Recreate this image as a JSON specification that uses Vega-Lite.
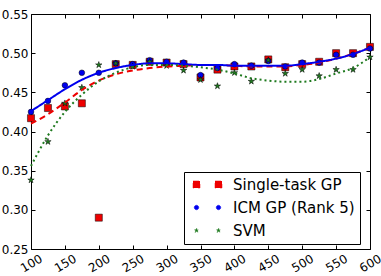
{
  "$schema": "https://vega.github.io/schema/vega-lite/v6.json",
  "width": 339,
  "height": 235,
  "autosize": "none",
  "padding": {"left": 31, "top": 14, "right": 11, "bottom": 27},
  "background": "white",
  "config": {
    "view": {"stroke": "#000000", "strokeWidth": 1},
    "font": "DejaVu Sans",
    "axis": {
      "grid": false,
      "domain": false,
      "tickColor": "#000000",
      "tickSize": -4,
      "tickWidth": 1,
      "labelFont": "DejaVu Sans",
      "labelFontSize": 12,
      "labelColor": "#000000",
      "title": null
    }
  },
  "datasets": {
    "points": [
      {"x": 100, "y": 0.417, "method": "Single-task GP"},
      {"x": 125, "y": 0.430, "method": "Single-task GP"},
      {"x": 150, "y": 0.432, "method": "Single-task GP"},
      {"x": 175, "y": 0.436, "method": "Single-task GP"},
      {"x": 200, "y": 0.290, "method": "Single-task GP"},
      {"x": 225, "y": 0.486, "method": "Single-task GP"},
      {"x": 250, "y": 0.485, "method": "Single-task GP"},
      {"x": 275, "y": 0.489, "method": "Single-task GP"},
      {"x": 300, "y": 0.488, "method": "Single-task GP"},
      {"x": 325, "y": 0.486, "method": "Single-task GP"},
      {"x": 350, "y": 0.469, "method": "Single-task GP"},
      {"x": 375, "y": 0.479, "method": "Single-task GP"},
      {"x": 400, "y": 0.483, "method": "Single-task GP"},
      {"x": 425, "y": 0.483, "method": "Single-task GP"},
      {"x": 450, "y": 0.492, "method": "Single-task GP"},
      {"x": 475, "y": 0.482, "method": "Single-task GP"},
      {"x": 500, "y": 0.486, "method": "Single-task GP"},
      {"x": 525, "y": 0.489, "method": "Single-task GP"},
      {"x": 550, "y": 0.500, "method": "Single-task GP"},
      {"x": 575, "y": 0.500, "method": "Single-task GP"},
      {"x": 600, "y": 0.508, "method": "Single-task GP"},
      {"x": 100, "y": 0.425, "method": "ICM GP (Rank 5)"},
      {"x": 125, "y": 0.439, "method": "ICM GP (Rank 5)"},
      {"x": 150, "y": 0.459, "method": "ICM GP (Rank 5)"},
      {"x": 175, "y": 0.475, "method": "ICM GP (Rank 5)"},
      {"x": 200, "y": 0.475, "method": "ICM GP (Rank 5)"},
      {"x": 225, "y": 0.487, "method": "ICM GP (Rank 5)"},
      {"x": 250, "y": 0.486, "method": "ICM GP (Rank 5)"},
      {"x": 275, "y": 0.491, "method": "ICM GP (Rank 5)"},
      {"x": 300, "y": 0.489, "method": "ICM GP (Rank 5)"},
      {"x": 325, "y": 0.488, "method": "ICM GP (Rank 5)"},
      {"x": 350, "y": 0.472, "method": "ICM GP (Rank 5)"},
      {"x": 375, "y": 0.481, "method": "ICM GP (Rank 5)"},
      {"x": 400, "y": 0.486, "method": "ICM GP (Rank 5)"},
      {"x": 425, "y": 0.484, "method": "ICM GP (Rank 5)"},
      {"x": 450, "y": 0.490, "method": "ICM GP (Rank 5)"},
      {"x": 475, "y": 0.483, "method": "ICM GP (Rank 5)"},
      {"x": 500, "y": 0.488, "method": "ICM GP (Rank 5)"},
      {"x": 525, "y": 0.488, "method": "ICM GP (Rank 5)"},
      {"x": 550, "y": 0.498, "method": "ICM GP (Rank 5)"},
      {"x": 575, "y": 0.498, "method": "ICM GP (Rank 5)"},
      {"x": 600, "y": 0.506, "method": "ICM GP (Rank 5)"},
      {"x": 100, "y": 0.338, "method": "SVM"},
      {"x": 125, "y": 0.387, "method": "SVM"},
      {"x": 150, "y": 0.436, "method": "SVM"},
      {"x": 175, "y": 0.456, "method": "SVM"},
      {"x": 200, "y": 0.485, "method": "SVM"},
      {"x": 225, "y": 0.487, "method": "SVM"},
      {"x": 250, "y": 0.483, "method": "SVM"},
      {"x": 275, "y": 0.489, "method": "SVM"},
      {"x": 300, "y": 0.484, "method": "SVM"},
      {"x": 325, "y": 0.478, "method": "SVM"},
      {"x": 350, "y": 0.466, "method": "SVM"},
      {"x": 375, "y": 0.458, "method": "SVM"},
      {"x": 400, "y": 0.475, "method": "SVM"},
      {"x": 425, "y": 0.464, "method": "SVM"},
      {"x": 450, "y": 0.491, "method": "SVM"},
      {"x": 475, "y": 0.474, "method": "SVM"},
      {"x": 500, "y": 0.479, "method": "SVM"},
      {"x": 525, "y": 0.471, "method": "SVM"},
      {"x": 550, "y": 0.479, "method": "SVM"},
      {"x": 575, "y": 0.479, "method": "SVM"},
      {"x": 600, "y": 0.495, "method": "SVM"}
    ],
    "fits": [
      {"x": 100, "y": 0.410, "method": "Single-task GP"},
      {"x": 125, "y": 0.422, "method": "Single-task GP"},
      {"x": 150, "y": 0.437, "method": "Single-task GP"},
      {"x": 175, "y": 0.453, "method": "Single-task GP"},
      {"x": 200, "y": 0.465, "method": "Single-task GP"},
      {"x": 225, "y": 0.473, "method": "Single-task GP"},
      {"x": 250, "y": 0.478, "method": "Single-task GP"},
      {"x": 275, "y": 0.481, "method": "Single-task GP"},
      {"x": 300, "y": 0.483, "method": "Single-task GP"},
      {"x": 325, "y": 0.484, "method": "Single-task GP"},
      {"x": 350, "y": 0.485, "method": "Single-task GP"},
      {"x": 375, "y": 0.485, "method": "Single-task GP"},
      {"x": 400, "y": 0.484, "method": "Single-task GP"},
      {"x": 425, "y": 0.483, "method": "Single-task GP"},
      {"x": 450, "y": 0.483, "method": "Single-task GP"},
      {"x": 475, "y": 0.483, "method": "Single-task GP"},
      {"x": 500, "y": 0.485, "method": "Single-task GP"},
      {"x": 525, "y": 0.488, "method": "Single-task GP"},
      {"x": 550, "y": 0.493, "method": "Single-task GP"},
      {"x": 575, "y": 0.499, "method": "Single-task GP"},
      {"x": 600, "y": 0.507, "method": "Single-task GP"},
      {"x": 100, "y": 0.426, "method": "ICM GP (Rank 5)"},
      {"x": 125, "y": 0.440, "method": "ICM GP (Rank 5)"},
      {"x": 150, "y": 0.454, "method": "ICM GP (Rank 5)"},
      {"x": 175, "y": 0.466, "method": "ICM GP (Rank 5)"},
      {"x": 200, "y": 0.475, "method": "ICM GP (Rank 5)"},
      {"x": 225, "y": 0.481, "method": "ICM GP (Rank 5)"},
      {"x": 250, "y": 0.485, "method": "ICM GP (Rank 5)"},
      {"x": 275, "y": 0.487, "method": "ICM GP (Rank 5)"},
      {"x": 300, "y": 0.487, "method": "ICM GP (Rank 5)"},
      {"x": 325, "y": 0.486, "method": "ICM GP (Rank 5)"},
      {"x": 350, "y": 0.485, "method": "ICM GP (Rank 5)"},
      {"x": 375, "y": 0.485, "method": "ICM GP (Rank 5)"},
      {"x": 400, "y": 0.484, "method": "ICM GP (Rank 5)"},
      {"x": 425, "y": 0.484, "method": "ICM GP (Rank 5)"},
      {"x": 450, "y": 0.484, "method": "ICM GP (Rank 5)"},
      {"x": 475, "y": 0.484, "method": "ICM GP (Rank 5)"},
      {"x": 500, "y": 0.486, "method": "ICM GP (Rank 5)"},
      {"x": 525, "y": 0.489, "method": "ICM GP (Rank 5)"},
      {"x": 550, "y": 0.493, "method": "ICM GP (Rank 5)"},
      {"x": 575, "y": 0.499, "method": "ICM GP (Rank 5)"},
      {"x": 600, "y": 0.507, "method": "ICM GP (Rank 5)"},
      {"x": 100, "y": 0.356, "method": "SVM"},
      {"x": 125, "y": 0.395, "method": "SVM"},
      {"x": 150, "y": 0.425, "method": "SVM"},
      {"x": 175, "y": 0.447, "method": "SVM"},
      {"x": 200, "y": 0.464, "method": "SVM"},
      {"x": 225, "y": 0.475, "method": "SVM"},
      {"x": 250, "y": 0.482, "method": "SVM"},
      {"x": 275, "y": 0.485, "method": "SVM"},
      {"x": 300, "y": 0.485, "method": "SVM"},
      {"x": 325, "y": 0.484, "method": "SVM"},
      {"x": 350, "y": 0.482, "method": "SVM"},
      {"x": 375, "y": 0.479, "method": "SVM"},
      {"x": 400, "y": 0.474, "method": "SVM"},
      {"x": 425, "y": 0.468, "method": "SVM"},
      {"x": 450, "y": 0.465, "method": "SVM"},
      {"x": 475, "y": 0.4635, "method": "SVM"},
      {"x": 500, "y": 0.4635, "method": "SVM"},
      {"x": 525, "y": 0.467, "method": "SVM"},
      {"x": 550, "y": 0.474, "method": "SVM"},
      {"x": 575, "y": 0.481, "method": "SVM"},
      {"x": 600, "y": 0.495, "method": "SVM"}
    ]
  },
  "resolve": {"axis": {"x": "independent", "y": "independent"}},
  "layer": [
    {
      "data": {"name": "points"},
      "mark": {
        "type": "point",
        "filled": true,
        "opacity": 1,
        "stroke": "#000000",
        "strokeWidth": 0.5,
        "shape": {"expr": "datum.method ? (datum.method === 'Single-task GP' ? 'square' : datum.method === 'SVM' ? 'M0,-1L0.2245,-0.309L0.951,-0.309L0.363,0.118L0.588,0.809L0,0.382L-0.588,0.809L-0.363,0.118L-0.951,-0.309L-0.2245,-0.309Z' : 'circle') : (datum.value === 'Single-task GP' ? 'M-2.9,-0.7H-1.5V0.7H-2.9ZM1.5,-0.7H2.9V0.7H1.5Z' : datum.value === 'SVM' ? 'M-2.2,-0.5L-2.088,-0.155L-1.724,-0.155L-2.018,0.059L-1.906,0.405L-2.2,0.191L-2.494,0.405L-2.382,0.059L-2.676,-0.155L-2.312,-0.155ZM2.2,-0.5L2.312,-0.155L2.676,-0.155L2.382,0.059L2.494,0.405L2.2,0.191L1.906,0.405L2.018,0.059L1.724,-0.155L2.088,-0.155Z' : 'M-2.65,0A0.45,0.45 0 1,0 -1.75,0A0.45,0.45 0 1,0 -2.65,0ZM1.75,0A0.45,0.45 0 1,0 2.65,0A0.45,0.45 0 1,0 1.75,0Z')"},
        "size": {"expr": "datum.method ? (datum.method === 'Single-task GP' ? 50 : datum.method === 'SVM' ? 45 : 32) : 100"}
      },
      "encoding": {
        "x": {
          "field": "x", "type": "quantitative",
          "scale": {"domain": [100, 600], "nice": false, "zero": false},
          "axis": {"orient": "bottom", "values": [100, 150, 200, 250, 300, 350, 400, 450, 500, 550, 600],
                   "labelAngle": -30, "labelAlign": "center", "labelBaseline": "middle", "labelPadding": 18,
                   "labelOverlap": false, "labelFlush": false}
        },
        "y": {
          "field": "y", "type": "quantitative",
          "scale": {"domain": [0.25, 0.55], "nice": false, "zero": false},
          "axis": {"orient": "left", "values": [0.25, 0.30, 0.35, 0.40, 0.45, 0.50, 0.55], "format": ".2f",
                   "labelPadding": 7, "labelOverlap": false, "labelFlush": false, "labelBaseline": "middle"}
        },
        "color": {
          "field": "method", "type": "nominal",
          "scale": {"domain": ["Single-task GP", "ICM GP (Rank 5)", "SVM"], "range": ["#ee0000", "#0000ee", "#1f7a1f"]},
          "legend": {
            "title": null,
            "orient": "none",
            "legendX": 153,
            "legendY": 158,
            "padding": 5,
            "rowPadding": 7,
            "strokeColor": "#000000",
            "fillColor": "#ffffff",
            "labelFont": "DejaVu Sans",
            "labelFontSize": 15,
            "labelColor": "#000000",
            "labelOffset": 18,
            "symbolOffset": 11,
            "symbolSize": 100,
            "symbolStrokeWidth": 0.5,
            "encode": {
              "symbols": {
                "size": {"value": 100},
                "shape": {"value": {"expr": "datum.value === 'Single-task GP' ? 'M-2.9,-0.7H-1.5V0.7H-2.9ZM1.5,-0.7H2.9V0.7H1.5Z' : datum.value === 'SVM' ? 'M-2.2,-0.5L-2.088,-0.155L-1.724,-0.155L-2.018,0.059L-1.906,0.405L-2.2,0.191L-2.494,0.405L-2.382,0.059L-2.676,-0.155L-2.312,-0.155ZM2.2,-0.5L2.312,-0.155L2.676,-0.155L2.382,0.059L2.494,0.405L2.2,0.191L1.906,0.405L2.018,0.059L1.724,-0.155L2.088,-0.155Z' : 'M-2.65,0A0.45,0.45 0 1,0 -1.75,0A0.45,0.45 0 1,0 -2.65,0ZM1.75,0A0.45,0.45 0 1,0 2.65,0A0.45,0.45 0 1,0 1.75,0Z'"}}
              }
            }
          }
        }
      }
    },
    {
      "data": {"name": "fits"},
      "mark": {"type": "line", "interpolate": "monotone", "strokeWidth": 2},
      "encoding": {
        "x": {"field": "x", "type": "quantitative",
              "axis": {"orient": "top", "labels": false, "values": [100, 150, 200, 250, 300, 350, 400, 450, 500, 550, 600]}},
        "y": {"field": "y", "type": "quantitative",
              "axis": {"orient": "right", "labels": false, "values": [0.25, 0.30, 0.35, 0.40, 0.45, 0.50, 0.55]}},
        "color": {"field": "method", "type": "nominal", "legend": null},
        "strokeDash": {
          "field": "method", "type": "nominal",
          "scale": {"domain": ["Single-task GP", "ICM GP (Rank 5)", "SVM"], "range": [[6, 4], [1, 0], [2, 3]]},
          "legend": null
        }
      }
    }
  ]
}
